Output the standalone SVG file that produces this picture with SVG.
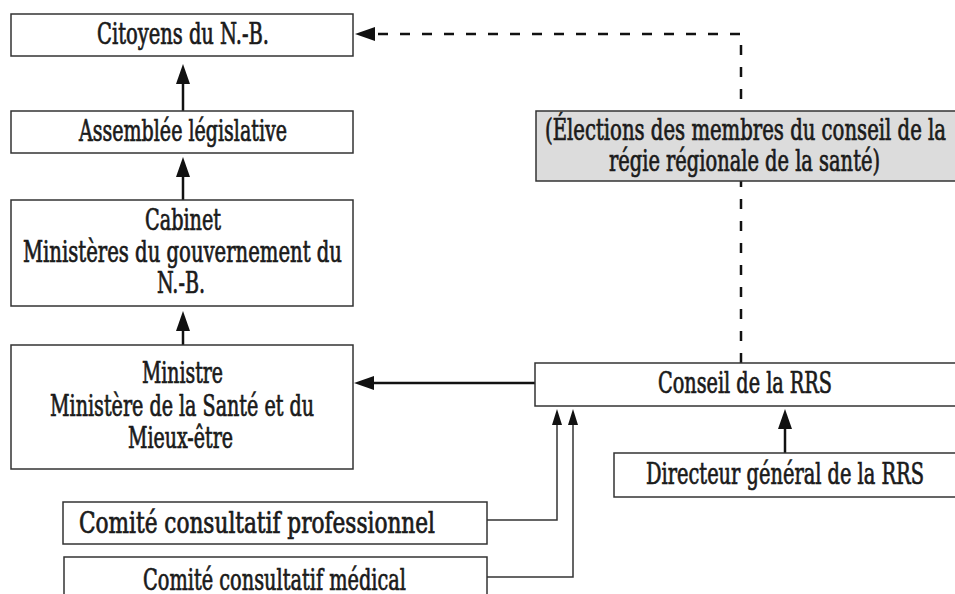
<svg xmlns="http://www.w3.org/2000/svg" width="955" height="594" viewBox="0 0 955 594">
<style>
.box{fill:#fff;stroke:#333;stroke-width:1.5}
.gray{fill:#dcdcdc;stroke:#333;stroke-width:1.5}
.t{font-family:'DejaVu Serif Condensed','DejaVu Serif','Liberation Serif',serif;font-size:29px;fill:#1a1a1a;stroke:#1a1a1a;stroke-width:0.7}
.thick{fill:none;stroke:#111;stroke-width:2.5}
.thin{fill:none;stroke:#333;stroke-width:1.5}
.dash{fill:none;stroke:#111;stroke-width:2.5;stroke-dasharray:10 12}
</style>
<defs>
<marker id="ah" viewBox="0 0 20 14" markerWidth="20" markerHeight="14" refX="10" refY="7" orient="auto" markerUnits="userSpaceOnUse">
<path d="M0,0 L20,7 L0,14 z" fill="#111"/>
</marker>
<marker id="ahs" viewBox="0 0 16 10" markerWidth="16" markerHeight="10" refX="8" refY="5" orient="auto" markerUnits="userSpaceOnUse">
<path d="M0,0 L16,5 L0,10 z" fill="#111"/>
</marker>
</defs>
<rect width="955" height="594" fill="#fff"/>
<g id="connectors">
<line class="thick" x1="183" y1="111" x2="183" y2="74" marker-end="url(#ah)"/>
<line class="thick" x1="183" y1="200" x2="183" y2="167" marker-end="url(#ah)"/>
<line class="thick" x1="183" y1="345" x2="183" y2="321" marker-end="url(#ah)"/>
<line class="thick" x1="535" y1="383" x2="364" y2="383" marker-end="url(#ah)"/>
<line class="thick" x1="785" y1="453" x2="785" y2="419" marker-end="url(#ah)"/>
<path class="thin" d="M487,520 H557 V417" marker-end="url(#ahs)"/>
<path class="thin" d="M487,577 H573 V417" marker-end="url(#ahs)"/>
<path class="dash" d="M741,363 V34 H365" marker-end="url(#ah)"/>
</g>
<g id="n-citoyens">
<rect class="box" x="11" y="14" width="342" height="42"/>
<text class="t" x="97" y="44" textLength="172" lengthAdjust="spacingAndGlyphs">Citoyens du N.-B.</text>
</g>
<g id="n-assemblee">
<rect class="box" x="11" y="111" width="342" height="42"/>
<text class="t" x="79" y="141" textLength="208" lengthAdjust="spacingAndGlyphs">Assemblée législative</text>
</g>
<g id="n-cabinet">
<rect class="box" x="11" y="200" width="342" height="106"/>
<text class="t" x="145" y="230" textLength="76" lengthAdjust="spacingAndGlyphs">Cabinet</text>
<text class="t" x="23" y="262" textLength="319" lengthAdjust="spacingAndGlyphs">Ministères du gouvernement du</text>
<text class="t" x="157" y="293" textLength="48" lengthAdjust="spacingAndGlyphs">N.-B.</text>
</g>
<g id="n-ministre">
<rect class="box" x="11" y="345" width="342" height="124"/>
<text class="t" x="142" y="383" textLength="81" lengthAdjust="spacingAndGlyphs">Ministre</text>
<text class="t" x="50" y="416" textLength="264" lengthAdjust="spacingAndGlyphs">Ministère de la Santé et du</text>
<text class="t" x="128" y="448" textLength="105" lengthAdjust="spacingAndGlyphs">Mieux-être</text>
</g>
<g id="n-elections">
<rect class="gray" x="536" y="111" width="430" height="70"/>
<text class="t" x="545" y="140" textLength="401" lengthAdjust="spacingAndGlyphs">(Élections des membres du conseil de la</text>
<text class="t" x="609" y="171" textLength="271" lengthAdjust="spacingAndGlyphs">régie régionale de la santé)</text>
</g>
<g id="n-conseil">
<rect class="box" x="535" y="363" width="430" height="43"/>
<text class="t" x="658" y="393" textLength="174" lengthAdjust="spacingAndGlyphs">Conseil de la RRS</text>
</g>
<g id="n-directeur">
<rect class="box" x="614" y="453" width="350" height="44"/>
<text class="t" x="646" y="484" textLength="278" lengthAdjust="spacingAndGlyphs">Directeur général de la RRS</text>
</g>
<g id="n-professionnel">
<rect class="box" x="63" y="502" width="424" height="42"/>
<text class="t" x="79" y="533" textLength="356" lengthAdjust="spacingAndGlyphs">Comité consultatif professionnel</text>
</g>
<g id="n-medical">
<rect class="box" x="64" y="557" width="423" height="50"/>
<text class="t" x="143" y="590" textLength="263" lengthAdjust="spacingAndGlyphs">Comité consultatif médical</text>
</g>
</svg>
